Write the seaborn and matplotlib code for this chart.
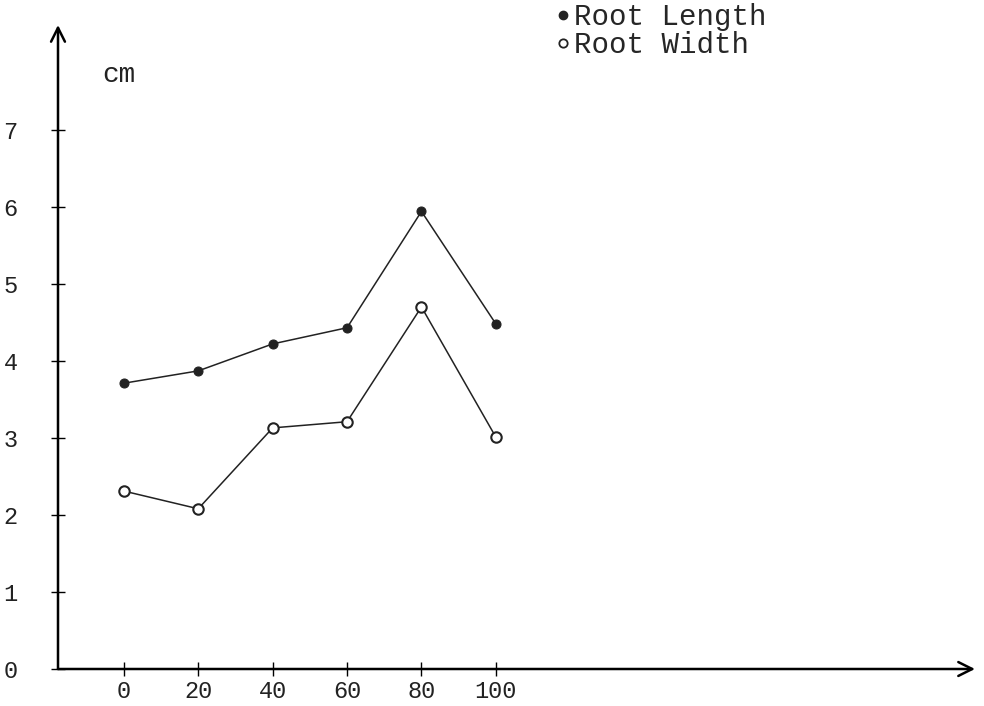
import matplotlib
matplotlib.use("Agg")
import matplotlib.pyplot as plt
from matplotlib.lines import Line2D
import seaborn as sns

# values
concentration = [0, 20, 40, 60, 80, 100]
root_length = [3.71, 3.87, 4.22, 4.43, 5.94, 4.48]
root_width = [2.31, 2.08, 3.13, 3.21, 4.70, 3.01]
y_ticks = [0, 1, 2, 3, 4, 5, 6, 7]
x_ticks = [0, 20, 40, 60, 80, 100]

sns.set_style("white")
plt.rcParams["font.family"] = ["Liberation Mono", "DejaVu Sans"]

fig = plt.figure(figsize=(9.84, 7.06), dpi=100)
ax = fig.add_axes([58 / 984, 37 / 706, 917 / 984, 644 / 706])

sns.lineplot(x=concentration, y=root_length, color="#222222", linewidth=1.1,
             marker="o", markersize=6.5, markerfacecolor="#222222",
             markeredgecolor="#222222", ax=ax)
sns.lineplot(x=concentration, y=root_width, color="#222222", linewidth=1.1,
             marker="o", markersize=7.5, markerfacecolor="white",
             markeredgecolor="#222222", markeredgewidth=1.5, ax=ax)

ax.set_xlim(-17.7, 228.8)
ax.set_ylim(0, 8.36)
ax.set_xticks(x_ticks)
ax.set_yticks(y_ticks)

for side in ["top", "right", "left", "bottom"]:
    ax.spines[side].set_visible(False)

# axis lines with open arrow heads
ax.annotate("", xy=(1, 0), xytext=(0, 0), xycoords="axes fraction",
            arrowprops=dict(arrowstyle="->", color="black", lw=1.8,
                            mutation_scale=25, shrinkA=0, shrinkB=0))
ax.annotate("", xy=(0, 1), xytext=(0, 0), xycoords="axes fraction",
            arrowprops=dict(arrowstyle="->", color="black", lw=1.8,
                            mutation_scale=25, shrinkA=0, shrinkB=0))

ax.tick_params(axis="both", direction="inout", length=10, width=1,
               color="black", labelcolor="#222222", labelsize=17,
               bottom=True, left=True)
ax.tick_params(axis="y", pad=24)
ax.tick_params(axis="x", pad=3)

ax.text(-1.3, 7.71, "cm", fontsize=20, ha="center", va="center",
        color="#222222")

handles = [
    Line2D([], [], marker="o", linestyle="none", markersize=6,
           markerfacecolor="#222222", markeredgecolor="#222222"),
    Line2D([], [], marker="o", linestyle="none", markersize=6,
           markerfacecolor="white", markeredgecolor="#222222",
           markeredgewidth=1.3),
]
ax.legend(handles, ["Root Length", "Root Width"], loc="upper left",
          bbox_to_anchor=(556 / 984, 1 - 3 / 706),
          bbox_transform=fig.transFigure, frameon=False, fontsize=21,
          handlelength=0.5, handletextpad=0.1, labelspacing=0.0,
          borderpad=0, borderaxespad=0)

fig.savefig("out.png", dpi=100)
